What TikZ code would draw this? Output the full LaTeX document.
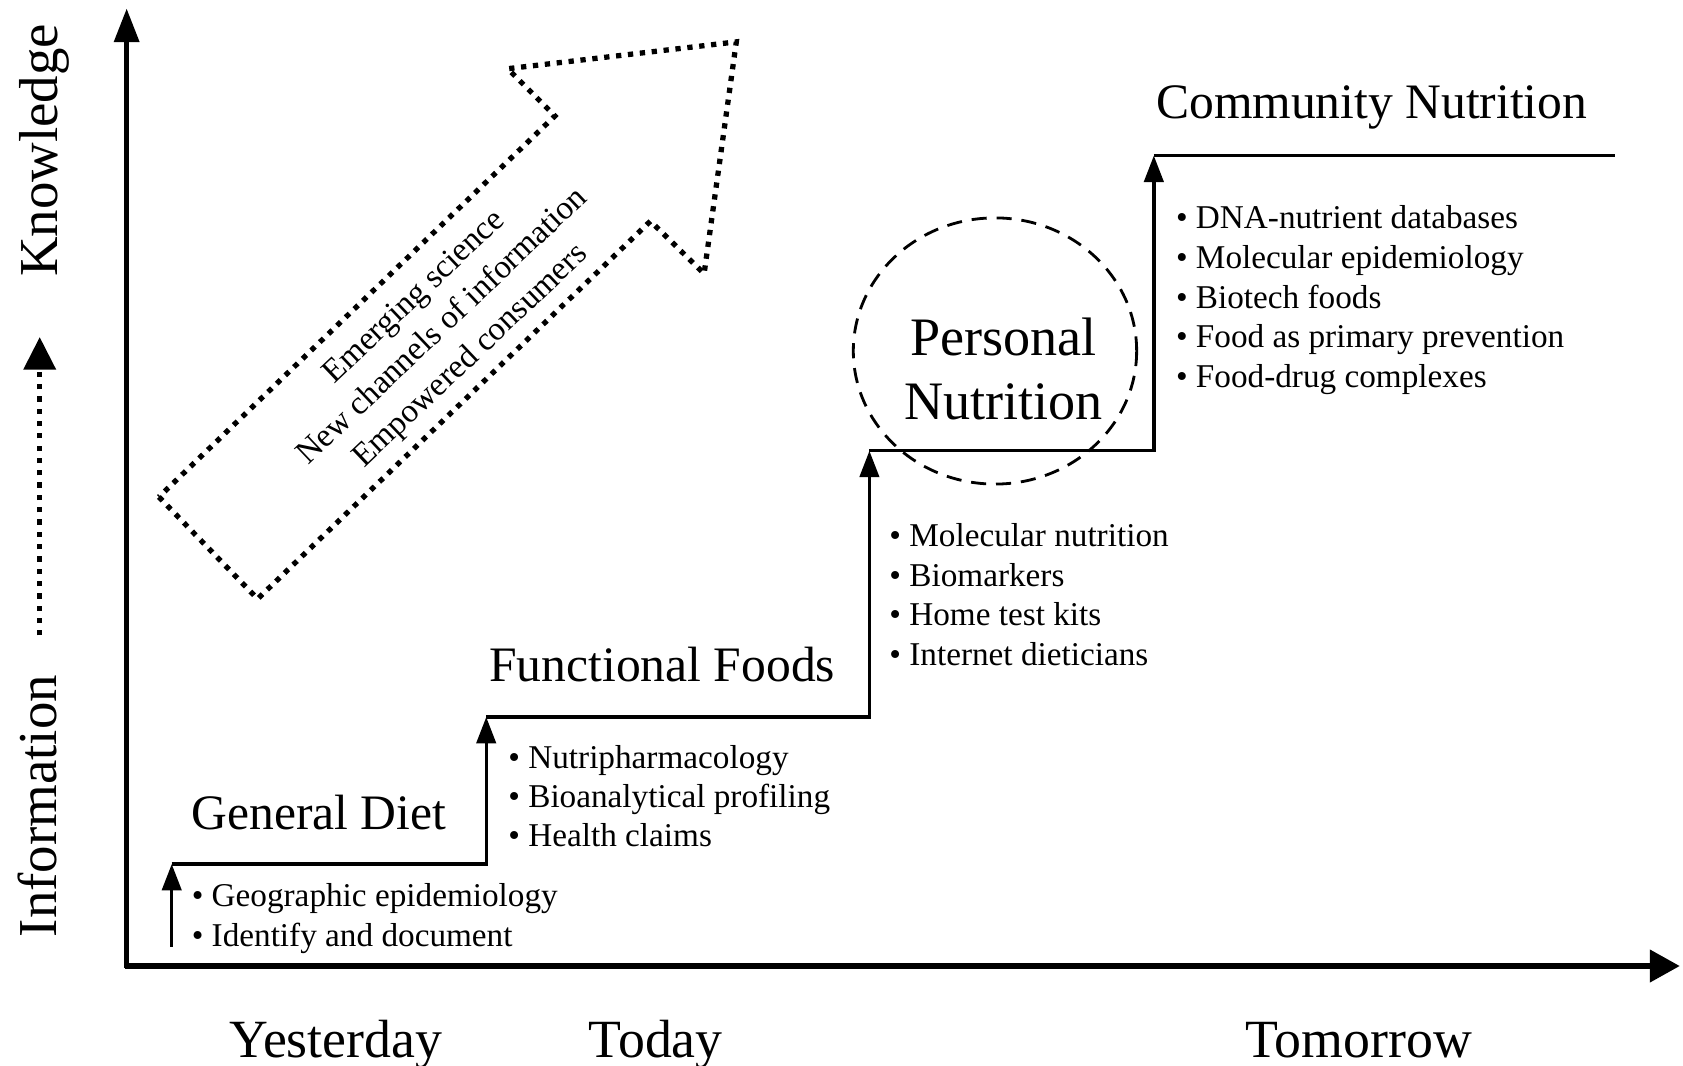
\documentclass[tikz,border=0pt]{standalone}
\usepackage{fontspec}
\setmainfont{Liberation Serif}
\usetikzlibrary{arrows.meta,positioning}
\tikzset{
  axis/.style={line width=1.3pt, -{Triangle[length=9.5pt,width=7pt]}},
  stair/.style={line width=0.95pt},
  stairarrow/.style={line width=0.95pt, -{Triangle[length=7.5pt,width=5.5pt]}},
  dotline/.style={line width=1.5pt, dash pattern=on 1.5pt off 1.9pt},
  heading/.style={font=\fontsize{14.1}{17}\selectfont, inner sep=0pt, anchor=base},
  era/.style={font=\fontsize{15.3}{18}\selectfont, inner sep=0pt, anchor=base},
  item/.style={font=\fontsize{9.45}{11.3}\selectfont, inner sep=0pt, anchor=base west}
}

\begin{document}
\begin{tikzpicture}[x=0.010733cm, y=-0.010733cm,
  sidelbl/.style={font=\fontsize{15.6}{18}\selectfont, inner sep=0pt, anchor=base, rotate=90},
  trend/.style={font=\fontsize{9.4}{11.6}\selectfont, inner sep=0pt, align=center, rotate=43.5}
]
\useasboundingbox (0,0) rectangle (1568,993);
% axes
\coordinate (origin) at (118,900);
\coordinate (ytip) at (118,8);
\coordinate (xtip) at (1565,900);
\draw[axis] (118,902) -- (ytip);
\draw[axis, line width=1.5pt, -{Triangle[length=8.5pt,width=9pt]}] (116,900) -- (xtip);
% side labels and the dotted arrow between them
\node[sidelbl] (know) at (54,140) {Knowledge};
\node[sidelbl] (info) at (53,751) {Information};
\coordinate (infobot) at (37,592);
\coordinate (infotop) at (37,314);
\draw[line width=1.5pt, dash pattern=on 1.5pt off 2pt, -{Triangle[length=9.3pt,width=9pt]}] (infobot) -- (infotop);
% eras
\node[era] (yesterday) at (313,985) {Yesterday};
\node[era] (today) at (611,985) {Today};
\node[era] (tomorrow) at (1266,985) {Tomorrow};
% staircase
\coordinate (st0) at (160,882);
\coordinate (st1) at (160,805);
\coordinate (st2) at (453,805);
\coordinate (st3) at (453,668);
\coordinate (st4) at (810,668);
\coordinate (st5) at (810,420);
\coordinate (st6) at (1075,420);
\coordinate (st7) at (1075,145);
\coordinate (st8) at (1505,145);
\draw[stairarrow] (st0) -- (st1);
\draw[stairarrow] (st1) -- (st2) -- (st3);
\draw[stairarrow] (st3) -- (st4) -- (st5);
\draw[stairarrow] (st5) -- (st6) -- (st7);
\draw[stair] (st7) -- (st8);
% step names
\node[heading] (diet) at (297,773) {General Diet};
\node[heading] (functional) at (617,635) {Functional Foods};
\node[heading] (community) at (1278,110) {Community Nutrition};
\node[font=\fontsize{15.4}{18.3}\selectfont, inner sep=0pt, align=center] (personal) at (935,344) {Personal\\Nutrition};
\draw[line width=0.8pt, dash pattern=on 4.3pt off 2.8pt] (927,327) ellipse [x radius=132, y radius=124];
% bullet lists under each step
\foreach \t [count=\i from 0] in {Geographic epidemiology, Identify and document}
  \node[item] (gen\i) at (178,845+37*\i) {\textbullet\ \t};
\foreach \t [count=\i from 0] in {Nutripharmacology, Bioanalytical profiling, Health claims}
  \node[item] (fun\i) at (473,716+36.5*\i) {\textbullet\ \t};
\foreach \t [count=\i from 0] in {Molecular nutrition, Biomarkers, Home test kits, Internet dieticians}
  \node[item] (per\i) at (828,509+37*\i) {\textbullet\ \t};
\foreach \t [count=\i from 0] in {DNA-nutrient databases, Molecular epidemiology, Biotech foods, Food as primary prevention, Food-drug complexes}
  \node[item] (com\i) at (1095,213+37*\i) {\textbullet\ \t};
% big dotted arrow
\draw[dotline] (148,463) -- (240,558) -- (606,206) -- (656,255) -- (686,39)
  -- (473,64) -- (517,108) -- cycle;
\node[trend] (drivers) at (413,305) {Emerging science\\New channels of information\\Empowered consumers};
\end{tikzpicture}
\end{document}
